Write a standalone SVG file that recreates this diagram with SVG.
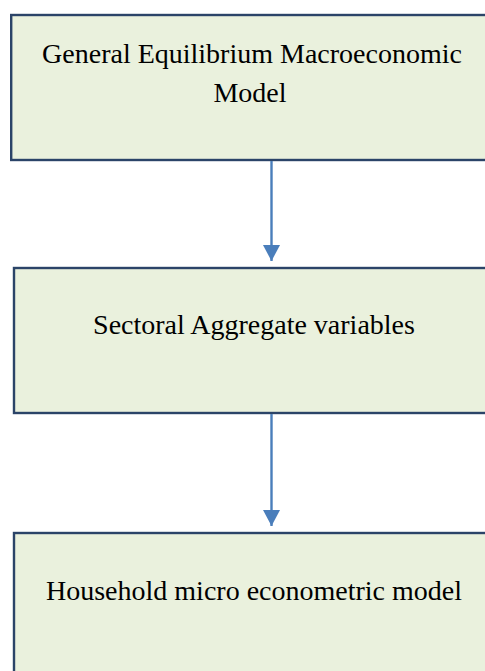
<svg xmlns="http://www.w3.org/2000/svg" width="485" height="671" viewBox="0 0 485 671">
<style>
.box{fill:#EAF1DD;stroke:#2B4468;stroke-width:2.4}
.lbl{font-family:"Liberation Serif","Times New Roman",serif;font-size:28px;fill:#000;text-anchor:middle}
.con{stroke:#4A7EBB;stroke-width:2.4;fill:none}
</style>
<defs>
<marker id="ah" markerUnits="userSpaceOnUse" markerWidth="18" markerHeight="18" refX="16" refY="8.5" orient="auto">
<path d="M0,0 L16,8.5 L0,17 Z" fill="#4A7EBB"/>
</marker>
</defs>
<rect width="485" height="671" fill="#fff"/>
<g id="node-general">
<rect class="box" x="11.2" y="15" width="490" height="145"/>
<text class="lbl" x="252" y="63">General Equilibrium Macroeconomic</text>
<text class="lbl" x="250" y="101.5">Model</text>
</g>
<g id="node-sectoral">
<rect class="box" x="14" y="268" width="490" height="145"/>
<text class="lbl" x="254" y="334">Sectoral Aggregate variables</text>
</g>
<g id="node-household">
<rect class="box" x="14" y="533" width="490" height="160"/>
<text class="lbl" x="254" y="600">Household micro econometric model</text>
</g>
<g id="connectors">
<line class="con" x1="271.5" y1="161" x2="271.5" y2="261" marker-end="url(#ah)"/>
<line class="con" x1="271.5" y1="414" x2="271.5" y2="526" marker-end="url(#ah)"/>
</g>
</svg>
